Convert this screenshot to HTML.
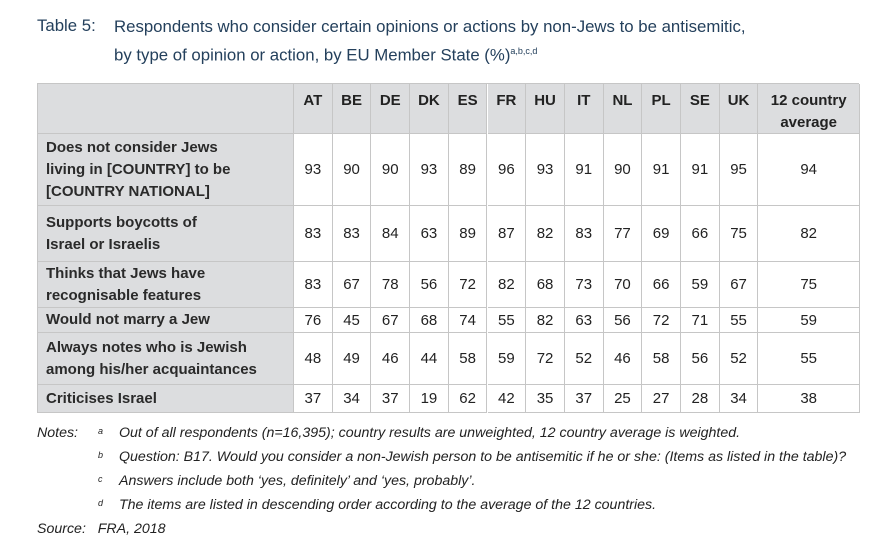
<!DOCTYPE html>
<html><head><meta charset="utf-8">
<style>
body{margin:0;width:890px;height:555px;background:#fff;position:relative;overflow:hidden;font-family:"Liberation Sans",sans-serif;}
.t{position:absolute;color:#24405c;font-size:16.8px;white-space:nowrap}
.cell{position:absolute;box-sizing:border-box;border-right:1px solid #c6c6c6;border-bottom:1px solid #c6c6c6;display:flex;align-items:center;justify-content:center;font-size:15px;color:#222}
.hd{background:#dcdddf;font-weight:bold;align-items:flex-start;padding-top:6px;text-align:center;line-height:22px}
.lab{background:#dcdddf;font-weight:bold;justify-content:flex-start;padding-left:8px;line-height:22px;color:#2a2a2a}
.n{position:absolute;font-size:14.2px;font-style:italic;color:#222;white-space:nowrap}
.sup{position:absolute;font-size:9px;font-style:italic;color:#222}
</style></head><body>
<div class="t" style="left:37px;top:16px">Table 5:</div>
<div class="t" style="left:114px;top:15px;line-height:24px">Respondents who consider certain opinions or actions by non-Jews to be antisemitic,<br>by type of opinion or action, by EU Member State (%)<sup style="font-size:9px">a,b,c,d</sup></div>
<div id="tbl" style="position:absolute;left:37px;top:83px;width:822px;height:330px;border-top:1px solid #c6c6c6;border-left:1px solid #c6c6c6;box-sizing:border-box"></div>
<div class="n" style="left:37px;top:425px">Notes:</div>
<div class="sup" style="left:98px;top:426px">a</div>
<div class="n" style="left:119px;top:425px">Out of all respondents (n=16,395); country results are unweighted, 12 country average is weighted.</div>
<div class="sup" style="left:98px;top:450px">b</div>
<div class="n" style="left:119px;top:449px">Question: B17. Would you consider a non-Jewish person to be antisemitic if he or she: (Items as listed in the table)?</div>
<div class="sup" style="left:98px;top:474px">c</div>
<div class="n" style="left:119px;top:473px">Answers include both ‘yes, definitely’ and ‘yes, probably’.</div>
<div class="sup" style="left:98px;top:498px">d</div>
<div class="n" style="left:119px;top:497px">The items are listed in descending order according to the average of the 12 countries.</div>
<div class="n" style="left:37px;top:521px">Source:&nbsp;&nbsp;&nbsp;FRA, 2018</div>
<script>
const countries=["AT","BE","DE","DK","ES","FR","HU","IT","NL","PL","SE","UK"];
const items=["Does not consider Jews<br>living in [COUNTRY] to be<br>[COUNTRY NATIONAL]","Supports boycotts of<br>Israel or Israelis","Thinks that Jews have<br>recognisable features","Would not marry a Jew","Always notes who is Jewish<br>among his/her acquaintances","Criticises Israel"];
const r1=[93,90,90,93,89,96,93,91,90,91,91,95];
const r2=[83,83,84,63,89,87,82,83,77,69,66,75];
const r3=[83,67,78,56,72,82,68,73,70,66,59,67];
const r4=[76,45,67,68,74,55,82,63,56,72,71,55];
const r5=[48,49,46,44,58,59,72,52,46,58,56,52];
const r6=[37,34,37,19,62,42,35,37,25,27,28,34];
const avg=[94,82,75,59,55,38];
const rows=[r1,r2,r3,r4,r5,r6];
const tb=document.getElementById('tbl');
const rowY=[0,50,122,178,224,249,301,329];
const labW=256,colW=38.7,avgW=822-256-12*38.7;
function cell(x,y,w,h,cls,html){const d=document.createElement('div');d.className='cell '+cls;d.style.left=x+'px';d.style.top=y+'px';d.style.width=w+'px';d.style.height=h+'px';d.innerHTML=html;tb.appendChild(d);return d;}
let h=cell(0,0,labW,50,'hd','');


countries.forEach((c,i)=>{const d=cell(labW+i*colW,0,colW,50,'hd',c);

});
let ha=cell(labW+12*colW,0,avgW,50,'hd','12 country<br>average');


rows.forEach((r,ri)=>{const y=rowY[ri+1],hh=rowY[ri+2]-y;
const l=cell(0,y,labW,hh,'lab',items[ri]);


r.forEach((v,ci)=>{const d=cell(labW+ci*colW,y,colW,hh,'',String(v));

});
const a=cell(labW+12*colW,y,avgW,hh,'',String(avg[ri]));

});
</script>
</body></html>
